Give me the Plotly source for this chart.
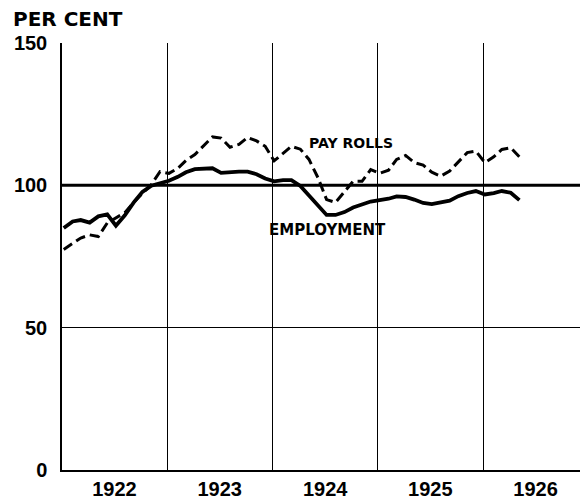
import plotly.graph_objects as go

# Monthly index numbers, Jan 1922 - May 1926 (per cent)
years = [1922] * 12 + [1923] * 12 + [1924] * 12 + [1925] * 12 + [1926] * 5
months = list(range(1, 13)) * 4 + [1, 2, 3, 4, 5]
dates = [f"{y}-{m:02d}-07" for y, m in zip(years, months)]

employment = [
    85.0, 87.3, 87.8, 86.9, 89.1, 89.8, 85.8, 89.5, 94.0, 97.7, 99.9, 100.6,
    101.6, 103.0, 104.6, 105.7, 106.0, 106.0, 104.4, 104.7, 104.8, 104.8, 103.9, 102.4,
    101.4, 101.8, 101.8, 99.8, 96.4, 92.6, 89.6, 89.6, 90.6, 92.2, 93.4, 94.3,
    94.8, 95.3, 96.1, 95.9, 95.0, 93.8, 93.4, 93.9, 94.6, 96.2, 97.3, 98.0,
    96.8, 97.3, 98.0, 97.4, 94.8,
]
pay_rolls = [
    77.5, 79.5, 81.5, 82.6, 82.0, 86.8, 88.7, 90.4, 94.1, 97.2, 100.3, 104.8,
    104.2, 106.0, 108.7, 110.8, 114.0, 117.0, 116.6, 113.4, 114.4, 116.8, 115.6, 113.7,
    108.6, 111.3, 113.7, 112.7, 109.1, 102.7, 95.0, 94.0, 97.7, 101.4, 101.4, 105.5,
    104.2, 105.3, 109.1, 110.5, 108.0, 107.1, 104.6, 103.2, 105.0, 108.3, 111.5, 112.0,
    108.0, 110.0, 112.6, 113.2, 110.0,
]

year_labels = ["1922", "1923", "1924", "1925", "1926"]
year_label_pos = [f"{y}-07-02" for y in year_labels]
y_ticks = [0, 50, 100, 150]

# page body adds an 8px margin; the figure is sized/offset to compensate
OFF = 8
W, H = 588 - OFF, 499 - OFF
ML, MT, MB, MR = 62 - OFF, 43 - OFF, 29, 0
PW, PH = W - ML - MR, H - MT - MB

fig = go.Figure()
fig.add_trace(go.Scatter(
    x=dates, y=pay_rolls, mode="lines", name="Pay rolls",
    line=dict(color="black", width=3, dash="10px,5px"),
))
fig.add_trace(go.Scatter(
    x=dates, y=employment, mode="lines", name="Employment",
    line=dict(color="black", width=3.8),
))

# heavy 100 per cent reference line
fig.add_shape(type="line", xref="paper", x0=0, x1=1, yref="y", y0=100, y1=100,
              line=dict(color="black", width=3))

fig.add_annotation(x="1924-09-28", y=115, text="PAY ROLLS", showarrow=False,
                   font=dict(family="DejaVu Sans", size=14, color="black", weight="bold"))
fig.add_annotation(x="1924-07-10", y=84.3, text="EMPLOYMENT", showarrow=False,
                   font=dict(family="DejaVu Sans", size=15, color="black", weight="bold"))
fig.add_annotation(xref="paper", yref="paper", x=(11 - 62) / PW, y=1 + (43 - 18.5) / PH,
                   xanchor="left", yanchor="middle", text="PER CENT", showarrow=False,
                   font=dict(family="DejaVu Sans", size=20, color="black", weight="bold"))

fig.update_layout(
    width=W, height=H,
    margin=dict(l=ML, r=MR, t=MT, b=MB, pad=0),
    paper_bgcolor="white", plot_bgcolor="white",
    showlegend=False,
    xaxis=dict(
        type="date", range=["1922-01-01", "1926-12-31"],
        tickvals=year_label_pos, ticktext=year_labels,
        showgrid=False, ticks="", zeroline=False,
        showline=True, linecolor="black", linewidth=1.5,
        tickfont=dict(family="Liberation Sans", size=20, color="black", weight="bold"),
        minor=dict(dtick="M12", tick0="1922-01-01", showgrid=True,
                   gridcolor="black", gridwidth=1.1, ticks=""),
    ),
    yaxis=dict(
        range=[0, 150], tickvals=y_ticks, ticktext=[str(v) for v in y_ticks],
        showgrid=True, gridcolor="black", gridwidth=1.1, zeroline=False,
        showline=True, linecolor="black", linewidth=1.5, ticks="",
        ticklabelstandoff=9,
        tickfont=dict(family="Liberation Sans", size=20, color="black", weight="bold"),
    ),
)

fig.write_html("out.html")
